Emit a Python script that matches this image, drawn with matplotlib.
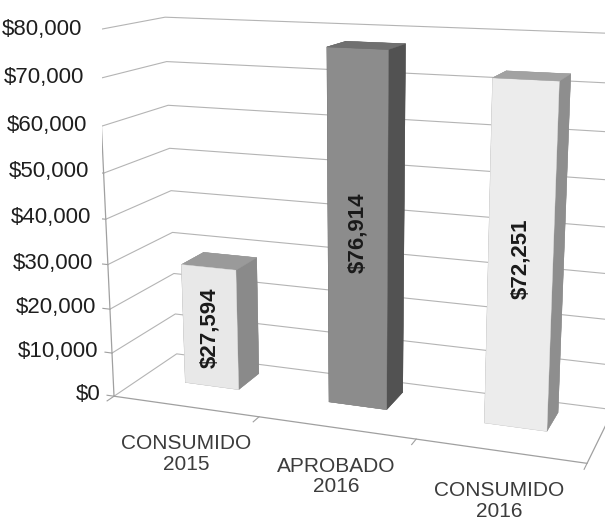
import numpy as np
import matplotlib.pyplot as plt
from mpl_toolkits.mplot3d import proj3d

categories = ['CONSUMIDO\n2015', 'APROBADO\n2016', 'CONSUMIDO\n2016']
values = [27594, 76914, 72251]
value_labels = ['$27,594', '$76,914', '$72,251']
ticks = [0, 10000, 20000, 30000, 40000, 50000, 60000, 70000, 80000]
tick_labels = ['$0', '$10,000', '$20,000', '$30,000', '$40,000',
               '$50,000', '$60,000', '$70,000', '$80,000']

front_colors = ['#e8e8e8', '#8c8c8c', '#ececec']
side_colors = ['#8a8a8a', '#525252', '#8e8e8e']
top_colors = ['#9a9a9a', '#707070', '#a2a2a2']

plt.rcParams['font.family'] = ['Liberation Sans', 'DejaVu Sans']

fig = plt.figure(figsize=(6.15, 5.3), dpi=100)
ax = fig.add_axes([0.1, 0.09, 0.95, 0.95], projection='3d')
ax.set_proj_type('persp', focal_length=0.5)
ax.view_init(elev=14, azim=-70)
ax.set_box_aspect((3, 0.85, 2.3), zoom=1.24)
ax.set_xlim(0, 3)
ax.set_ylim(0, 1)
ax.set_zlim(0, 80000)
ax.set_axis_off()

grid_col = '#b4b4b4'
# gridlines on side wall and back wall
for v in ticks:
    ax.plot([0, 0, 3], [0, 1, 1], [v, v, v], color=grid_col, lw=0.8)
# floor outline and left axis
ax.plot([0, 3, 3], [0, 0, 1], [0, 0, 0], color='#a0a0a0', lw=0.9)
ax.plot([0, 0], [0, 0], [0, ticks[-1]], color='#a0a0a0', lw=0.9)
for v, lab in zip(ticks, tick_labels):
    ax.plot([-0.05, 0], [0, 0], [v, v], color='#a0a0a0', lw=0.8)
    ax.text(-0.1, 0, v, lab, ha='right', va='center', fontsize=16,
            color='#1e1e1e', zorder=20)
for i in range(len(categories) + 1):
    ax.plot([i, i], [0, -0.1], [0, 0], color='#a0a0a0', lw=0.8)

# bars
M = ax.get_proj()
y0, depth = 0.44, 0.37
for i, val in enumerate(values):
    cols = [top_colors[i], top_colors[i], front_colors[i],
            side_colors[i], side_colors[i], side_colors[i]]
    ax.bar3d(i + 0.31, y0, 0, 0.38, depth, val, color=cols, shade=False,
             edgecolor=cols, linewidth=0.3)
    xp, yp, _ = proj3d.proj_transform(i + 0.5, y0, val / 2, M)
    ax.text2D(xp, yp, value_labels[i], transform=ax.transData, rotation=90,
              ha='center', va='center', fontsize=16, fontweight='bold',
              color='#1a1a1a', zorder=20)
    ax.text(i + 0.5, 0, -6500, categories[i], ha='center', va='top',
            fontsize=15, color='#3c3c3c', linespacing=1.1, zorder=20)

fig.savefig('out.png', dpi=100)
